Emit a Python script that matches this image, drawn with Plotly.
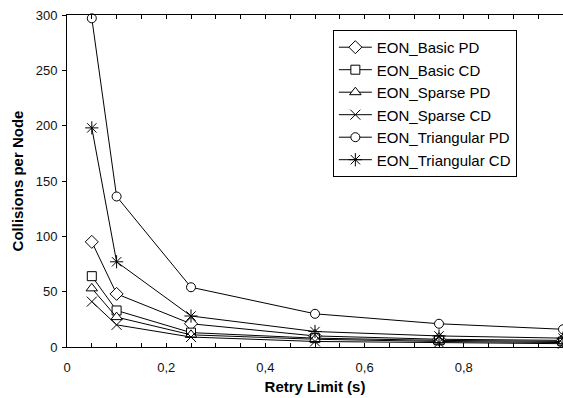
import plotly.graph_objects as go

retry_limit = [0.05, 0.1, 0.25, 0.5, 0.75, 1.0]
series_names = ["EON_Basic PD", "EON_Basic CD", "EON_Sparse PD", "EON_Sparse CD",
                "EON_Triangular PD", "EON_Triangular CD"]
basic_pd = [95, 48, 21, 10, 7, 6]
basic_cd = [64, 33, 13, 8, 6, 5]
sparse_pd = [53, 27, 11, 7, 5, 4]
sparse_cd = [41, 20, 9, 5, 4, 3]
tri_pd = [297, 136, 54, 30, 21, 16]
tri_cd = [198, 77, 28, 14, 10, 8]
x_tick_vals = [0, 0.2, 0.4, 0.6, 0.8]
x_tick_text = ["0", "0,2", "0,4", "0,6", "0,8"]
y_tick_vals = [0, 50, 100, 150, 200, 250, 300]

series = [basic_pd, basic_cd, sparse_pd, sparse_cd, tri_pd, tri_cd]
symbols = ["diamond", "square", "triangle-up", "x-thin", "circle", "asterisk"]
sizes = [10, 9, 10, 10, 9, 11]

fig = go.Figure()
for i, (name, ys, sym, sz) in enumerate(zip(series_names, series, symbols, sizes)):
    fig.add_trace(go.Scatter(
        x=retry_limit, y=ys, name=name, mode="lines+markers",
        line=dict(color="black", width=1),
        marker=dict(symbol=sym, size=sz, color="white",
                    line=dict(color="black", width=1)),
        cliponaxis=False, legendgroup=str(i),
    ))

font_family = "Liberation Sans, Arial, sans-serif"
fig.update_layout(
    width=563, height=398,
    margin=dict(l=67, r=0, t=15, b=51),
    paper_bgcolor="white", plot_bgcolor="white",
    font=dict(family=font_family, color="black", size=13),
    showlegend=True,
    legend=dict(
        x=0.536, y=0.955, xanchor="left", yanchor="top",
        bgcolor="white", bordercolor="black", borderwidth=1,
        font=dict(size=15, family=font_family, color="black"),
        tracegroupgap=0, traceorder="grouped", itemwidth=33,
    ),
    xaxis=dict(
        range=[0, 1.0], tickvals=x_tick_vals, ticktext=x_tick_text,
        ticks="inside", ticklen=4, tickcolor="black",
        minor=dict(dtick=0.05, tick0=0, ticks="inside", ticklen=4, tickcolor="black"),
        showline=True, linecolor="black", linewidth=1, mirror="ticks",
        showgrid=False, zeroline=False,
        tickfont=dict(size=13, color="#111"), ticklabelstandoff=8,
        title=dict(text="<b>Retry Limit (s)</b>", font=dict(size=15), standoff=7),
    ),
    yaxis=dict(
        range=[0, 300], tickvals=y_tick_vals,
        ticks="outside", ticklen=4, tickcolor="black",
        showline=True, linecolor="black", linewidth=1,
        showgrid=False, zeroline=False,
        tickfont=dict(size=13, color="#111"), ticklabelstandoff=2,
        title=dict(text="<b>Collisions per Node</b>", font=dict(size=15), standoff=8),
    ),
)

fig.write_html("out.html")
